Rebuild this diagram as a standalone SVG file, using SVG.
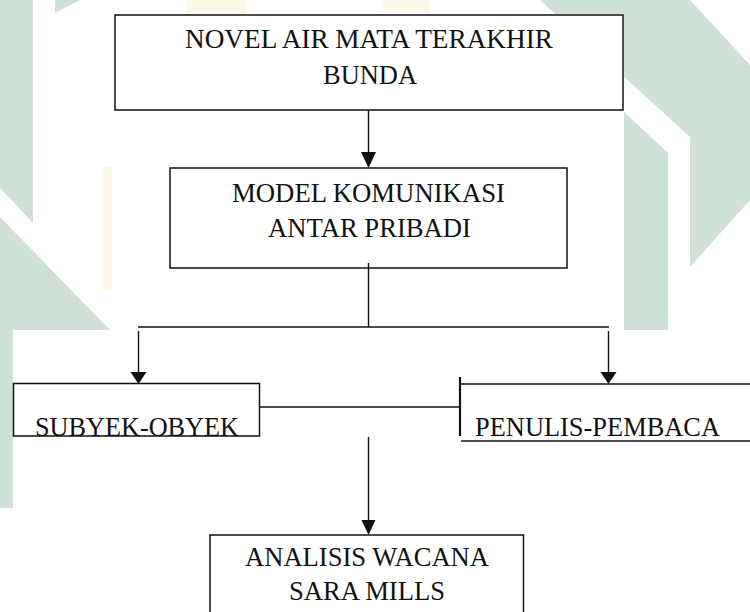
<svg xmlns="http://www.w3.org/2000/svg" width="750" height="612" viewBox="0 0 750 612">
  <style>
    .box { fill: none; stroke: #111; stroke-width: 1.5; }
    .ln { fill: none; stroke: #111; stroke-width: 1.4; }
    .head { fill: #111; stroke: none; }
    .t { font-family: "Liberation Serif", "Times New Roman", serif; font-size: 27.5px; fill: #111; }
    .wm { fill: #cfe1d7; }
    .wy { fill: #fdf9e8; }
  </style>
  <rect x="0" y="0" width="750" height="612" fill="#ffffff"/>
  <g id="watermark">
    <polygon class="wm" points="0,0 33,0 33,223 0,188"/>
    <polygon class="wm" points="55,0 80,0 55,13"/>
    <polygon class="wm" points="0,217 110,330 13,330 13,508 0,508"/>
    <polygon class="wm" points="540,0 690,0 750,65 750,200 690,267 690,137"/>
    <polygon class="wm" points="590,80 668,153 668,330 590,330"/>
    <rect class="wy" x="187" y="0" width="60" height="14"/>
    <rect class="wy" x="383" y="0" width="47" height="12"/>
    <rect class="wy" x="103" y="167" width="9" height="123"/>
    <rect x="112" y="14" width="512" height="316" fill="#ffffff"/>
    <rect x="13" y="330" width="737" height="282" fill="#ffffff"/>
  </g>
  <g id="connectors">
    <line class="ln" x1="368.5" y1="110" x2="368.5" y2="153"/>
    <polygon class="head" points="361,152 376,152 368.5,168"/>
    <line class="ln" x1="368.5" y1="263" x2="368.5" y2="327"/>
    <line class="ln" x1="138" y1="327" x2="609" y2="327"/>
    <line class="ln" x1="138.5" y1="331" x2="138.5" y2="373"/>
    <polygon class="head" points="130.5,372 146.5,372 138.5,384"/>
    <line class="ln" x1="608.5" y1="331" x2="608.5" y2="373"/>
    <polygon class="head" points="600.5,372 616.5,372 608.5,384"/>
    <line class="ln" x1="259" y1="407" x2="460" y2="407"/>
    <line class="ln" x1="368.5" y1="437" x2="368.5" y2="521"/>
    <polygon class="head" points="361.5,520 375.5,520 368.5,535"/>
  </g>
  <g id="node-novel">
    <rect class="box" x="115" y="15" width="508" height="95"/>
    <text class="t" x="369" y="48" text-anchor="middle" textLength="368" lengthAdjust="spacingAndGlyphs">NOVEL AIR MATA TERAKHIR</text>
    <text class="t" x="370" y="84" text-anchor="middle" textLength="94" lengthAdjust="spacingAndGlyphs">BUNDA</text>
  </g>
  <g id="node-model">
    <rect class="box" x="170" y="168" width="397" height="100"/>
    <text class="t" x="368.5" y="202" text-anchor="middle" textLength="273" lengthAdjust="spacingAndGlyphs">MODEL KOMUNIKASI</text>
    <text class="t" x="369.5" y="237" text-anchor="middle" textLength="203" lengthAdjust="spacingAndGlyphs">ANTAR PRIBADI</text>
  </g>
  <g id="node-subyek">
    <rect class="box" x="13.5" y="383.5" width="246" height="52.5"/>
    <text class="t" x="35" y="436" textLength="204" lengthAdjust="spacingAndGlyphs">SUBYEK-OBYEK</text>
  </g>
  <g id="node-penulis">
    <line x1="460" y1="377" x2="460" y2="436" stroke="#111" stroke-width="2.2"/>
    <line class="ln" x1="460" y1="384" x2="750" y2="384"/>
    <line class="ln" x1="461" y1="441" x2="750" y2="441"/>
    <text class="t" x="475" y="436" textLength="245" lengthAdjust="spacingAndGlyphs">PENULIS-PEMBACA</text>
  </g>
  <g id="node-analisis">
    <rect class="box" x="210" y="535" width="313.5" height="100"/>
    <text class="t" x="367" y="566" text-anchor="middle" textLength="244" lengthAdjust="spacingAndGlyphs">ANALISIS WACANA</text>
    <text class="t" x="367" y="600" text-anchor="middle" textLength="156" lengthAdjust="spacingAndGlyphs">SARA MILLS</text>
  </g>
</svg>
